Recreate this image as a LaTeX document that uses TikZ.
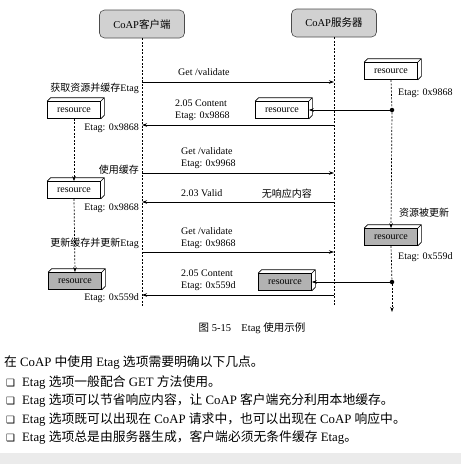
\documentclass[tikz,border=0pt]{standalone}
\usepackage{fontspec}
\setmainfont{Liberation Serif}
\newfontfamily\cjk{Noto Sans CJK SC}
\newfontfamily\dingfont{DejaVu Sans}
\usepackage{tikz}
\usetikzlibrary{positioning,arrows.meta}

% 3D slab on top and right side of a resource box
\newcommand{\slab}[1]{\draw[line width=0.6pt] (#1.north west) -- ++(3.5,-3.5) -- ([shift={(3.5,-3.5)}]#1.north east) -- ([shift={(3.5,-3.5)}]#1.south east) -- (#1.south east) (#1.north east) -- ++(3.5,-3.5);}

\tikzset{
  lifeline/.style={dash pattern=on 2pt off 1.5pt, line width=0.7pt},
  tip/.style={-{Stealth[length=5pt,width=3.5pt]}},
  msg/.style={line width=0.7pt, tip},
  hostbox/.style={draw=black!70, line width=0.6pt, rounded corners=5pt, fill=black!18, minimum width=85pt, minimum height=28pt, font=\fontsize{10.5}{12}\selectfont},
  resbox/.style={draw, line width=0.6pt, fill=white, minimum width=53pt, minimum height=17pt, inner sep=0pt, font=\fontsize{10}{12}\selectfont},
  resnew/.style={resbox, fill=black!30},
  dot/.style={circle, fill=black, inner sep=0pt, minimum size=4.5pt},
  lbl/.style={font=\fontsize{10}{12}\selectfont, inner sep=1pt},
  msglbl/.style={lbl, anchor=west, align=left},
  body/.style={font=\fontsize{12.8}{15}\selectfont, anchor=west, inner sep=0pt},
}

\begin{document}
\begin{tikzpicture}[x=1pt,y=-1pt]
\useasboundingbox (0,0) rectangle (461,464);
\fill[black!8] (0,453) rectangle (461,464);

% hosts and lifelines
\node[hostbox] (cl) at (142,24) {CoAP{\cjk 客户端}};
\node[hostbox] (sv) at (334,23) {CoAP{\cjk 服务器}};
\coordinate (clend) at (142,306);
\coordinate (svend) at (334,306);
\draw[lifeline] (cl.south) -- (clend);
\draw[lifeline] (sv.south) -- (svend);

% server side resource
\node[resbox] (sr1) at (391,71) {resource}; \slab{sr1}
\node[dot] (d1) at (392,110) {};
\node[resnew] (sr2) at (391,237) {resource}; \slab{sr2}
\node[dot] (d2) at (392,282) {};
\coordinate (srend) at (392,312);
\draw[lifeline] (sr1.south) -- (d1);
\draw[lifeline,tip] (d1) -- (sr2.north);
\draw[lifeline] (sr2.south) -- (d2);
\draw[lifeline,tip] (d2) -- (srend);
\node[lbl,anchor=west] (se1) at (397,93) {Etag: 0x9868};
\node[lbl,anchor=west] (upd) at (398,213) {\cjk 资源被更新};
\node[lbl,anchor=west] (se2) at (397,257) {Etag: 0x559d};

% client side cache
\node[resbox] (cr1) at (74,110) {resource}; \slab{cr1}
\node[resbox] (cr2) at (74,190) {resource}; \slab{cr2}
\node[resnew] (cr3) at (75,281) {resource}; \slab{cr3}
\draw[lifeline,tip] (cr1.south) -- (cr2.north);
\draw[lifeline,tip] (cr2.south) -- (cr3.north);
\node[lbl,anchor=east] (get1) at (140,88) {{\cjk 获取资源并缓存}Etag};
\node[lbl,anchor=east] (ce1) at (140,128) {Etag: 0x9868};
\node[lbl,anchor=east] (use) at (140,170) {\cjk 使用缓存};
\node[lbl,anchor=east] (ce2) at (140,208) {Etag: 0x9868};
\node[lbl,anchor=east] (get2) at (140,243) {{\cjk 更新缓存并更新}Etag};
\node[lbl,anchor=east] (ce3) at (140,298) {Etag: 0x559d};

% copies in the responses
\node[resbox] (cp1) at (282,110) {resource}; \slab{cp1}
\node[resnew] (cp2) at (285,282) {resource}; \slab{cp2}
\draw[msg] (d1) -- (cp1.east);
\draw[msg] (d2) -- (cp2.east);

% messages
\coordinate (c1) at (142,82);  \coordinate (s1) at (334,82);
\coordinate (c2) at (142,125); \coordinate (s2) at (334,125);
\coordinate (c3) at (142,173); \coordinate (s3) at (334,173);
\coordinate (c4) at (142,202); \coordinate (s4) at (334,202);
\coordinate (c5) at (142,252); \coordinate (s5) at (334,252);
\coordinate (c6) at (142,295); \coordinate (s6) at (334,295);
\draw[msg] (c1) -- (s1);
\draw[msg] (s2) -- (c2);
\draw[msg] (c3) -- (s3);
\draw[msg] (s4) -- (c4);
\draw[msg] (c5) -- (s5);
\draw[msg] (s6) -- (c6);
\node[msglbl] (m1) at (177,72) {Get /validate};
\node[msglbl] (m2) at (174,110) {2.05 Content\\Etag: 0x9868};
\node[msglbl] (m3) at (180,158) {Get /validate\\Etag: 0x9968};
\node[msglbl] (m4) at (180,193) {2.03 Valid};
\node[lbl,anchor=east] (m4b) at (313,194) {\cjk 无响应内容};
\node[msglbl] (m5) at (180,238) {Get /validate\\Etag: 0x9868};
\node[msglbl] (m6) at (180,280) {2.05 Content\\Etag: 0x559d};

% caption and text
\node[font=\fontsize{10.5}{12}\selectfont] (cap) at (252,328) {{\cjk 图} 5-15\quad Etag {\cjk 使用示例}};
\node[body] (t0) at (4,362) {{\cjk 在} CoAP {\cjk 中使用} Etag {\cjk 选项需要明确以下几点。}};
\node[body] (b1) at (6,382) {{\dingfont\fontsize{10}{12}\selectfont ❑}\hspace{7pt}Etag {\cjk 选项一般配合} GET {\cjk 方法使用。}};
\node[body] (b2) at (6,400) {{\dingfont\fontsize{10}{12}\selectfont ❑}\hspace{7pt}Etag {\cjk 选项可以节省响应内容，让} CoAP {\cjk 客户端充分利用本地缓存。}};
\node[body] (b3) at (6,419) {{\dingfont\fontsize{10}{12}\selectfont ❑}\hspace{7pt}Etag {\cjk 选项既可以出现在} CoAP {\cjk 请求中，也可以出现在} CoAP {\cjk 响应中。}};
\node[body] (b4) at (6,437) {{\dingfont\fontsize{10}{12}\selectfont ❑}\hspace{7pt}Etag {\cjk 选项总是由服务器生成，客户端必须无条件缓存} Etag{\cjk 。}};
\end{tikzpicture}
\end{document}
